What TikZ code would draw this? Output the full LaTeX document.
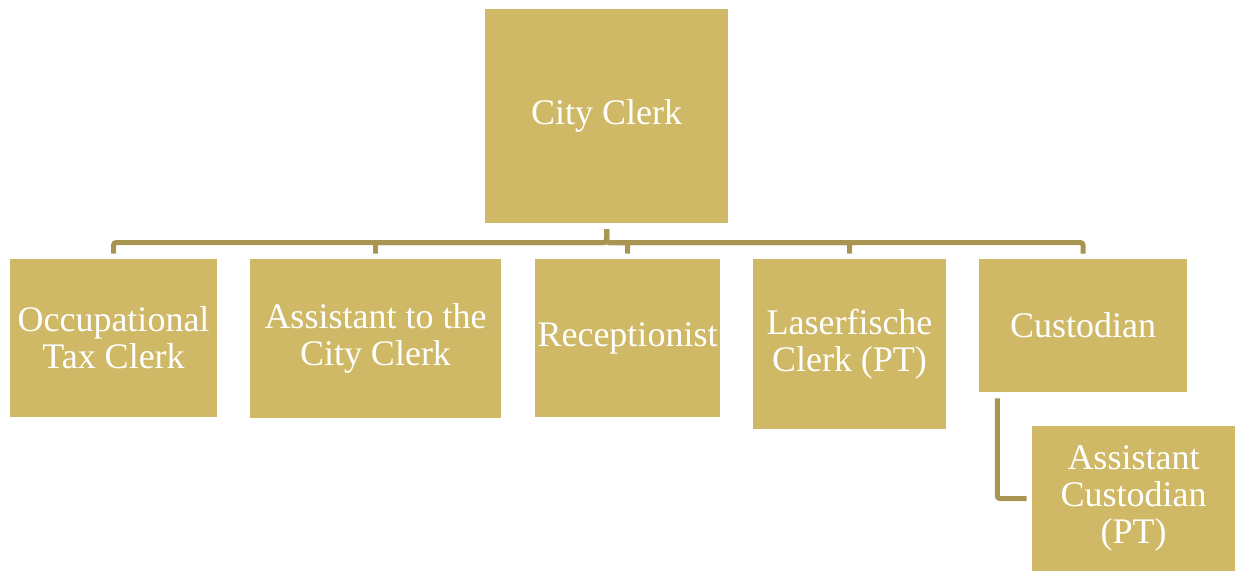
\documentclass[tikz,border=0pt]{standalone}
\usepackage{fontspec}
\setmainfont{Liberation Serif}
\definecolor{boxgold}{RGB}{207,185,102}
\definecolor{linkgold}{RGB}{168,149,82}
\begin{document}
\begin{tikzpicture}[x=0.75pt,y=-0.75pt,
  role/.style={fill=boxgold, text=white, inner sep=0pt, align=center,
               font=\fontsize{27}{27.5}\selectfont},
  link/.style={draw=linkgold, line width=3.75pt, rounded corners=2pt}]
\useasboundingbox (0,0) rectangle (1235,571);

% head of the office
\node[role, minimum width=182.25pt, minimum height=160.5pt] (cc) at (606.5,116) {City Clerk};

% staff row
\node[role, minimum width=155.25pt, minimum height=118.5pt] (otc) at (113.5,338) {Occupational\\Tax Clerk};
\node[role, minimum width=188.25pt, minimum height=119.25pt] (asst) at (375.5,338.5) {Assistant to the\\City Clerk};
\node[role, minimum width=138.75pt, minimum height=118.5pt] (rec) at (627.5,338) {Receptionist};
\node[role, minimum width=144.75pt, minimum height=127.5pt] (lf) at (849.5,344) {Laserfische\\Clerk (PT)};
\node[role, minimum width=156pt, minimum height=99.75pt] (cust) at (1083,325.5) {Custodian};

% under the custodian
\node[role, minimum width=152.25pt, minimum height=108.75pt] (acust) at (1133.5,498.5) {Assistant\\Custodian\\(PT)};

% reporting lines
\foreach \child in {otc,asst,rec,lf,cust}
  \draw[link, shorten <=4.5pt, shorten >=3.75pt] (cc.south) -- (606.5,242.5) -| (\child.north);
\draw[link, shorten <=4.5pt, shorten >=3.75pt] ([xshift=13.9pt]cust.south west) |- (acust.west);
\end{tikzpicture}
\end{document}
